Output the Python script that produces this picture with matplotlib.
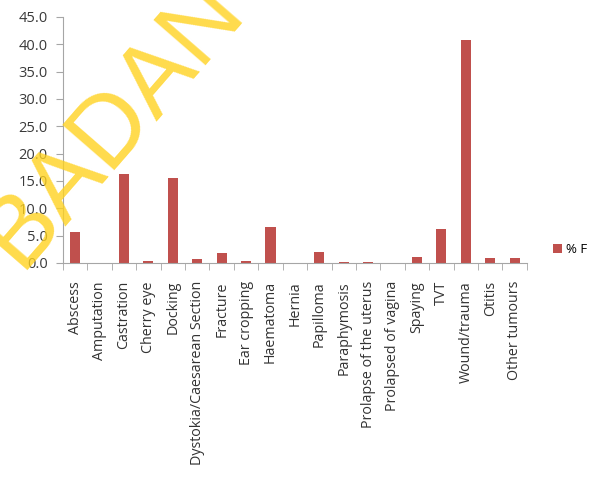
import matplotlib
matplotlib.use("Agg")
import matplotlib.pyplot as plt
import numpy as np

categories = ["Abscess", "Amputation", "Castration", "Cherry eye", "Docking",
              "Dystokia/Caesarean Section", "Fracture", "Ear cropping", "Haematoma",
              "Hernia", "Papilloma", "Paraphymosis", "Prolapse of the uterus",
              "Prolapsed of vagina", "Spaying", "TVT", "Wound/trauma", "Otitis",
              "Other tumours"]
pct_f = [5.6, 0.0, 16.3, 0.4, 15.6, 0.7, 1.8, 0.4, 6.6, 0.0, 2.1, 0.2, 0.2,
         0.0, 1.1, 6.3, 40.7, 0.9, 0.9]
yticks = [0, 5, 10, 15, 20, 25, 30, 35, 40, 45]

plt.rcParams['font.family'] = ['Open Sans', 'DejaVu Sans']

fig = plt.figure(figsize=(5.94, 4.83), dpi=100)
ax = fig.add_axes([0.106, 0.4555, 0.781, 0.5095])

x = np.arange(len(categories))
ax.bar(x, pct_f, width=0.41, color="#C0504D", label="% F", zorder=2)

ax.set_xlim(-0.5, len(categories) - 0.5)
ax.set_ylim(0, 45)
ax.set_yticks(yticks)
ax.set_yticklabels([f"{v:.1f}" for v in yticks])

ax.set_xticks(x)
ax.set_xticklabels(categories, rotation=90)
ax.set_xticks(np.arange(len(categories) + 1) - 0.5, minor=True)
ax.tick_params(axis="x", which="major", length=0, pad=13, labelsize=10.3, labelcolor="#333333")
ax.tick_params(axis="x", which="minor", length=5, color="#A6A6A6", direction="out")
ax.tick_params(axis="y", length=5, pad=6, color="#A6A6A6", labelsize=10.5, labelcolor="#3a3a3a")

for s in ["top", "right"]:
    ax.spines[s].set_visible(False)
for s in ["left", "bottom"]:
    ax.spines[s].set_color("#A6A6A6")

ax.legend(loc="center left", bbox_to_anchor=(1.03, 0.055), frameon=False,
          handlelength=0.7, handleheight=0.7, handletextpad=0.3, fontsize=9.5)

# watermark
fig.text(0.19, 0.745, "BADAN", fontsize=72, rotation=49, ha="center", va="center",
         family="Liberation Sans", color="#FFD21F", alpha=0.8, zorder=10)

fig.savefig("out.png", dpi=100)
